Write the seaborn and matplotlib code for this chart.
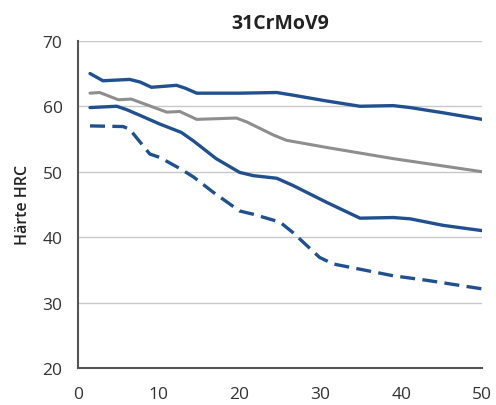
import pandas as pd
import matplotlib.pyplot as plt
import seaborn as sns

# hardness curves (distance vs HRC)
x_max = [1.5, 3.1, 6.4, 7.7, 9.1, 12.2, 13.2, 14.7, 20, 24.6, 26.6, 30.8, 34.9, 39, 41.1, 45.2, 50]
hrc_max = [65, 63.9, 64.1, 63.7, 62.9, 63.2, 62.8, 62, 62, 62.1, 61.7, 60.8, 60, 60.1, 59.8, 59.0, 58]

x_mid = [1.5, 2.7, 5, 6.6, 7.7, 11, 12.6, 14.7, 19.6, 20.9, 24.2, 25.8, 30.8, 39, 50]
hrc_mid = [62, 62.1, 61, 61.1, 60.6, 59.1, 59.2, 58, 58.2, 57.6, 55.6, 54.8, 53.7, 52, 50]

x_min = [1.5, 4.8, 6, 7.7, 10.1, 12.8, 14.3, 17.1, 20, 21.7, 24.6, 26.6, 30.8, 34.9, 39, 41.1, 45.2, 50]
hrc_min = [59.8, 60, 59.5, 58.6, 57.3, 56, 54.7, 52, 49.9, 49.4, 49, 47.9, 45.3, 42.9, 43, 42.8, 41.8, 41]

x_dash = [1.5, 5.6, 6.4, 8.9, 10.1, 12.6, 14.3, 16.7, 20, 21.7, 25, 26.6, 29.9, 31.6, 34.9, 39, 43.2, 50]
hrc_dash = [57, 56.9, 56.5, 52.7, 52.2, 50.5, 49.2, 46.9, 44, 43.5, 42.3, 40.7, 36.9, 35.9, 35.1, 34.1, 33.4, 32.1]

blue = '#21508f'
grey = '#8e8e8e'

sns.set_style('white')
plt.rcParams['font.family'] = ['Open Sans', 'DejaVu Sans']

fig = plt.figure(figsize=(4.96, 4.06), dpi=100)
ax = fig.add_axes([0.157, 0.091, 0.815, 0.806])

for y in [30, 40, 50, 60, 70]:
    ax.axhline(y, color='#c8c8c8', lw=1, zorder=0)

line_kw = dict(solid_joinstyle='round', solid_capstyle='round', dash_joinstyle='round')
sns.lineplot(x=x_max, y=hrc_max, color=blue, lw=2.4, ax=ax, **line_kw)
sns.lineplot(x=x_mid, y=hrc_mid, color=grey, lw=2.2, ax=ax, **line_kw)
sns.lineplot(x=x_min, y=hrc_min, color=blue, lw=2.4, ax=ax, **line_kw)
sns.lineplot(x=x_dash, y=hrc_dash, color=blue, lw=2.4, ax=ax,
             linestyle=(0, (4.5, 2.2)), **line_kw)

ax.set_xlim(0, 50)
ax.set_ylim(20, 70)
ax.set_xticks([0, 10, 20, 30, 40, 50])
ax.set_yticks([20, 30, 40, 50, 60, 70])
ax.tick_params(axis='both', direction='out', length=5, width=1.2,
               color='#555555', labelsize=12.5, labelcolor='#333333')
ax.tick_params(axis='x', pad=8)
ax.tick_params(axis='y', pad=6)

for side in ['top', 'right']:
    ax.spines[side].set_visible(False)
for side in ['left', 'bottom']:
    ax.spines[side].set_color('#555555')
    ax.spines[side].set_linewidth(1.5)

ax.set_ylabel('Härte HRC', fontsize=11.5, fontweight='semibold', color='#222222', labelpad=8)
ax.set_title('31CrMoV9', fontsize=14, fontweight='bold', color='#222222', pad=9)

plt.savefig('out.png', dpi=100)
